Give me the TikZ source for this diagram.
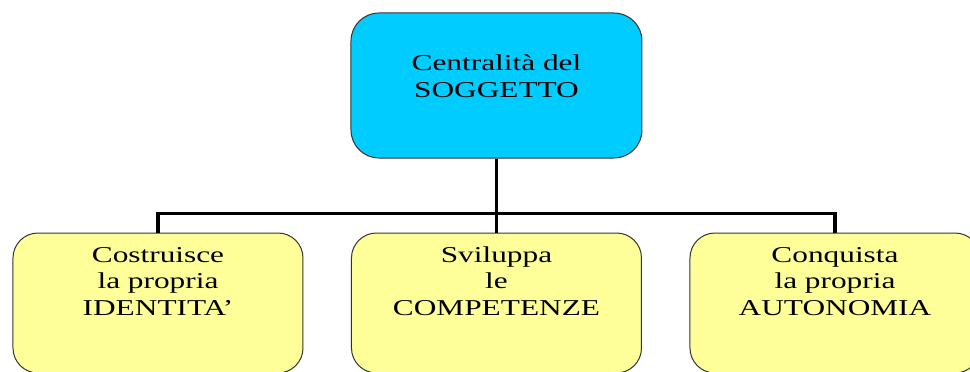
\documentclass[tikz,border=0pt]{standalone}
\usepackage{fontspec}
\setmainfont{Liberation Serif}[FakeStretch=1.38]
\usepackage{tikz}
\usetikzlibrary{positioning, calc}
\definecolor{soggettocyan}{RGB}{0,204,255}
\definecolor{leafyellow}{RGB}{255,255,153}
\tikzstyle{topbox} = [rectangle, rounded corners=28pt, minimum width=291pt, inner sep=0pt, text height=84pt, text depth=61pt, align=center, draw=black!80, line width=1pt, fill=soggettocyan, font=\fontsize{22.7pt}{26pt}\selectfont]
\tikzstyle{leafbox} = [rectangle, rounded corners=25pt, minimum width=290pt, inner sep=0pt, text height=82pt, text depth=58pt, align=center, draw=black!80, line width=1pt, fill=leafyellow, font=\fontsize{22.7pt}{26.5pt}\selectfont]
\tikzstyle{bus} = [line width=3.5pt, black]

\begin{document}
\begin{tikzpicture}[node distance=217.5pt]
\useasboundingbox (-496.5pt,-286.5pt) rectangle (473.5pt,85.5pt);
\node (soggetto) [topbox] {Centralità del\\SOGGETTO};
\node (competenze) [leafbox, below of=soggetto] {Sviluppa\\le\\COMPETENZE};
\node (identita) [leafbox, below of=soggetto, xshift=-338.5pt] {Costruisce\\la propria\\IDENTITA’};
\node (autonomia) [leafbox, below of=soggetto, xshift=338.5pt] {Conquista\\la propria\\AUTONOMIA};
\coordinate (split) at ($(soggetto.south)+(0,-55pt)$);
\draw [bus] (soggetto.south) -- (split);
\draw [bus] (split) -| (identita.north);
\draw [bus] (split) -| (autonomia.north);
\draw [bus] (split) -- (competenze.north);
\end{tikzpicture}
\end{document}
